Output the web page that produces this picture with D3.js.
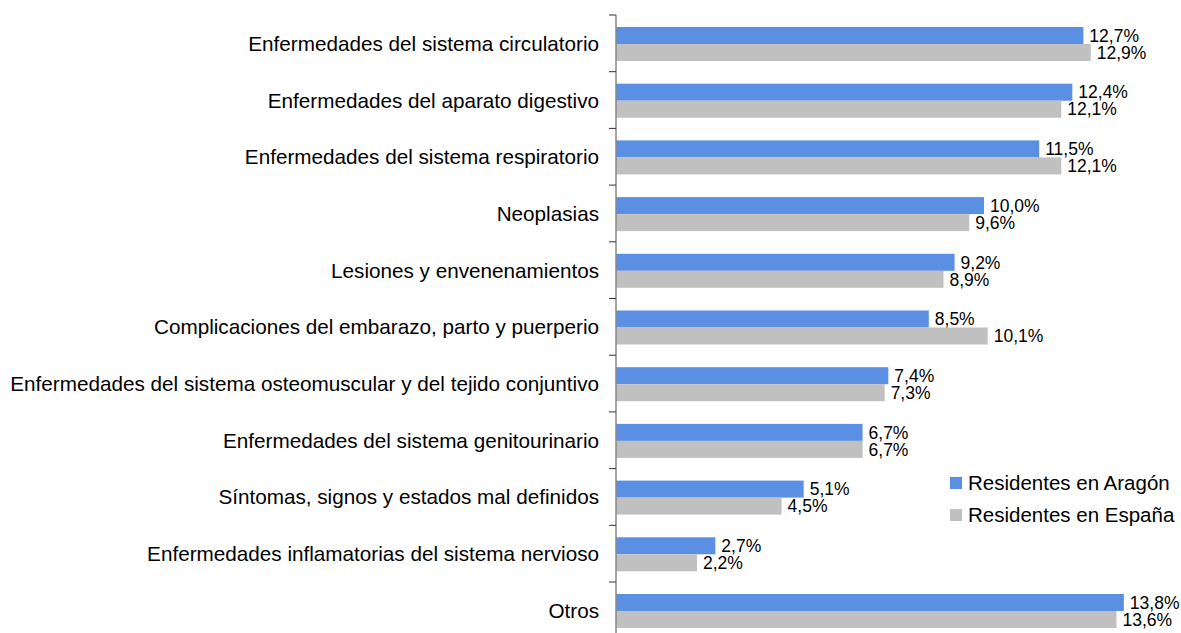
<!DOCTYPE html>
<html>
  <meta charset="utf-8" />
  <head>
    <title>Altas hospitalarias por diagnostico</title>
    <script src="https://d3js.org/d3.v7.min.js"></script>
  </head>
  <style>
    body { margin: 0; background: #fff; }
    text { font-family: "Liberation Sans", Arial, sans-serif; fill: #000; }
  </style>
  <body>
    <svg width="1181" height="633"></svg>
    <script>
      // data (percent)
      var categories = [
        "Enfermedades del sistema circulatorio",
        "Enfermedades del aparato digestivo",
        "Enfermedades del sistema respiratorio",
        "Neoplasias",
        "Lesiones y envenenamientos",
        "Complicaciones del embarazo, parto y puerperio",
        "Enfermedades del sistema osteomuscular y del tejido conjuntivo",
        "Enfermedades del sistema genitourinario",
        "Síntomas, signos y estados mal definidos",
        "Enfermedades inflamatorias del sistema nervioso",
        "Otros"
      ];
      var seriesNames = ["Residentes en Aragón", "Residentes en España"];
      var aragon = [12.7, 12.4, 11.5, 10.0, 9.2, 8.5, 7.4, 6.7, 5.1, 2.7, 13.8];
      var espana = [12.9, 12.1, 12.1, 9.6, 8.9, 10.1, 7.3, 6.7, 4.5, 2.2, 13.6];
      var colors = ["#5a8fe3", "#c0c0c0"];

      var svg = d3.select("svg");
      var axisX = 616;

      var x = d3.scaleLinear().domain([0, 14]).range([axisX, axisX + 14 * 36.8]);

      var y0 = d3.scaleBand()
        .domain(categories)
        .range([15, 15 + categories.length * 56.7])
        .padding(0);

      var y1 = d3.scaleBand()
        .domain(seriesNames)
        .range([12, 46])
        .padding(0);

      var fmt = function(v) { return d3.format(".1f")(v).replace(".", ",") + "%"; };

      var rows = categories.map(function(c, i) {
        return { cat: c, vals: [
          { key: seriesNames[0], value: aragon[i], i: 0 },
          { key: seriesNames[1], value: espana[i], i: 1 }
        ] };
      });

      var groups = svg.append("g").selectAll("g")
        .data(rows)
        .enter().append("g")
          .attr("transform", function(d) { return "translate(0," + y0(d.cat) + ")"; });

      groups.selectAll("rect")
        .data(function(d) { return d.vals; })
        .enter().append("rect")
          .attr("x", x(0))
          .attr("y", function(d) { return y1(d.key); })
          .attr("width", function(d) { return x(d.value) - x(0); })
          .attr("height", y1.bandwidth())
          .attr("fill", function(d) { return colors[d.i]; });

      groups.selectAll("text.val")
        .data(function(d) { return d.vals; })
        .enter().append("text")
          .attr("class", "val")
          .attr("x", function(d) { return x(d.value) + 6; })
          .attr("y", function(d) { return y1(d.key) + y1.bandwidth() / 2; })
          .attr("dy", "0.36em")
          .attr("font-size", 17.5)
          .text(function(d) { return fmt(d.value); });

      // category labels
      svg.append("g").selectAll("text")
        .data(categories)
        .enter().append("text")
          .attr("x", 599)
          .attr("y", function(d) { return y0(d) + y0.bandwidth() / 2; })
          .attr("dy", "0.36em")
          .attr("text-anchor", "end")
          .attr("font-size", 20.7)
          .text(function(d) { return d; });

      // axis line and ticks at band boundaries
      svg.append("line")
        .attr("x1", axisX).attr("x2", axisX)
        .attr("y1", y0.range()[0]).attr("y2", 633)
        .attr("stroke", "#888").attr("stroke-width", 1.5);

      svg.append("g").selectAll("line")
        .data(categories)
        .enter().append("line")
          .attr("x1", axisX - 7).attr("x2", axisX)
          .attr("y1", function(d) { return y0(d); })
          .attr("y2", function(d) { return y0(d); })
          .attr("stroke", "#333").attr("stroke-width", 1);

      // legend
      var legend = svg.append("g").selectAll("g")
        .data(seriesNames)
        .enter().append("g")
          .attr("transform", function(d, i) { return "translate(950," + (477 + i * 32) + ")"; });

      legend.append("rect")
        .attr("width", 12).attr("height", 12)
        .attr("fill", function(d, i) { return colors[i]; });

      legend.append("text")
        .attr("x", 18).attr("y", 6)
        .attr("dy", "0.36em")
        .attr("font-size", 20.5)
        .text(function(d) { return d; });
    </script>
  </body>
</html>
